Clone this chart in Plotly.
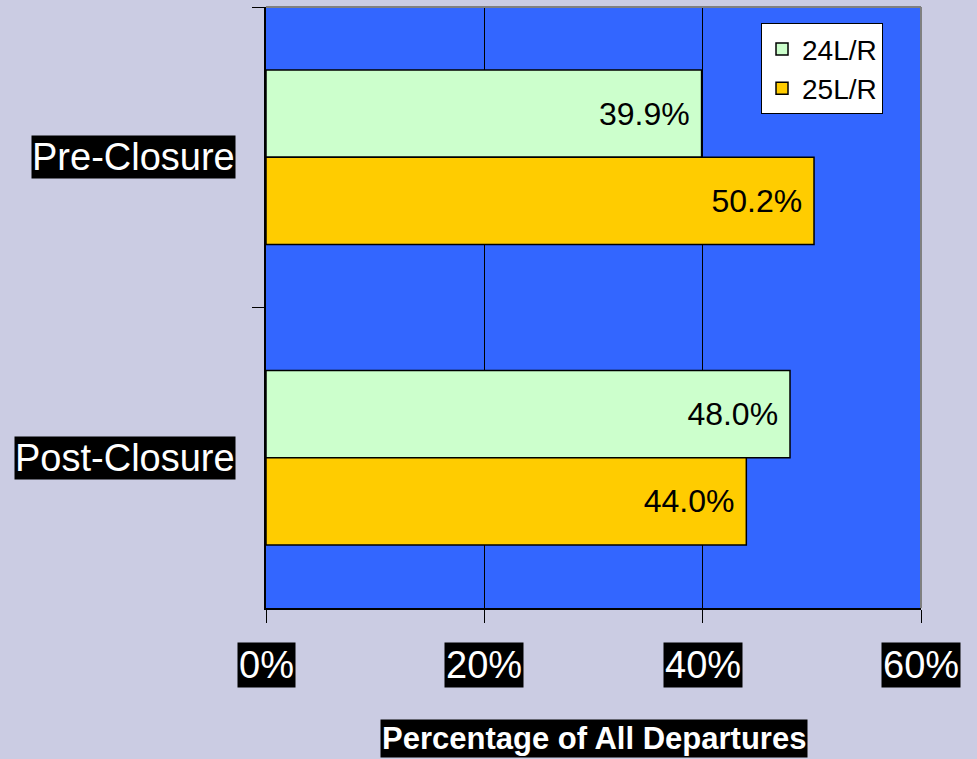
import plotly.graph_objects as go

# data
periods = ["Pre-Closure", "Post-Closure"]
runway_24 = [39.9, 48.0]
runway_25 = [50.2, 44.0]
series_names = ["24L/R", "25L/R"]
x_ticks = [0, 20, 40, 60]
x_tick_labels = ["0%", "20%", "40%", "60%"]
axis_title = "Percentage of All Departures"

FONT = "Liberation Sans, Arial, sans-serif"
colors = {"24L/R": "#CCFFCC", "25L/R": "#FFCC00"}

fig = go.Figure()
for name, vals in zip(series_names, [runway_24, runway_25]):
    fig.add_trace(go.Bar(
        name=name, y=periods, x=vals, orientation="h",
        marker=dict(color=colors[name], line=dict(color="black", width=1.5)),
        text=[f"{v:.1f}%\u00a0" for v in vals],
        textposition="inside", insidetextanchor="end",
        textfont=dict(color="black", size=32, family=FONT),
        cliponaxis=False,
    ))

annotations = []
# y category labels with black boxes
for p in periods:
    annotations.append(dict(
        text=p, xref="paper", x=0, xanchor="right", xshift=-30,
        yref="y", y=p, yanchor="middle", showarrow=False,
        font=dict(color="white", size=38, family=FONT),
        bgcolor="black", borderpad=0,
    ))
# x tick labels with black boxes
for t, lab in zip(x_ticks, x_tick_labels):
    annotations.append(dict(
        text=lab, xref="x", x=t, xanchor="center",
        yref="paper", y=0, yanchor="middle", yshift=-57, showarrow=False,
        font=dict(color="white", size=38, family=FONT),
        bgcolor="black", borderpad=1,
    ))
# axis title
annotations.append(dict(
    text=f"<b>{axis_title}</b>", xref="paper", x=0.5, xanchor="center",
    yref="paper", y=0, yanchor="middle", yshift=-130, showarrow=False,
    font=dict(color="white", size=31, family=FONT),
    bgcolor="black", borderpad=1,
))

fig.update_layout(
    width=977, height=759,
    margin=dict(l=266, r=56, t=7, b=151),
    paper_bgcolor="#cbcce3",
    plot_bgcolor="#3366FF",
    barmode="group", bargap=0.42, bargroupgap=0,
    font=dict(family=FONT, color="black"),
    legend=dict(
        x=0.942, xanchor="right", y=0.973, yanchor="top",
        bgcolor="white", bordercolor="black", borderwidth=1,
        font=dict(size=28, color="black"), traceorder="normal",
    ),
    annotations=annotations,
    shapes=[
        dict(type="line", xref="paper", yref="paper", x0=0, x1=1, y0=1, y1=1,
             line=dict(color="#808080", width=2)),
        dict(type="line", xref="paper", yref="paper", x0=1, x1=1, y0=0, y1=1,
             line=dict(color="#808080", width=2)),
    ],
)
fig.update_xaxes(
    range=[0, 60], tickvals=x_ticks, showticklabels=False,
    showgrid=True, gridcolor="black", gridwidth=1, zeroline=False,
    showline=True, linecolor="black", linewidth=2,
    ticks="outside", ticklen=13, tickcolor="black", tickwidth=1,
)
fig.update_yaxes(
    autorange="reversed", showticklabels=False, showgrid=False,
    showline=True, linecolor="black", linewidth=2,
    ticks="outside", tickson="boundaries", ticklen=12, tickcolor="black", tickwidth=1,
)

# drop the default page margin so the figure fills the window
fig.write_html("out.html", config={"displayModeBar": False},
               post_script="document.body.style.margin='0';")
